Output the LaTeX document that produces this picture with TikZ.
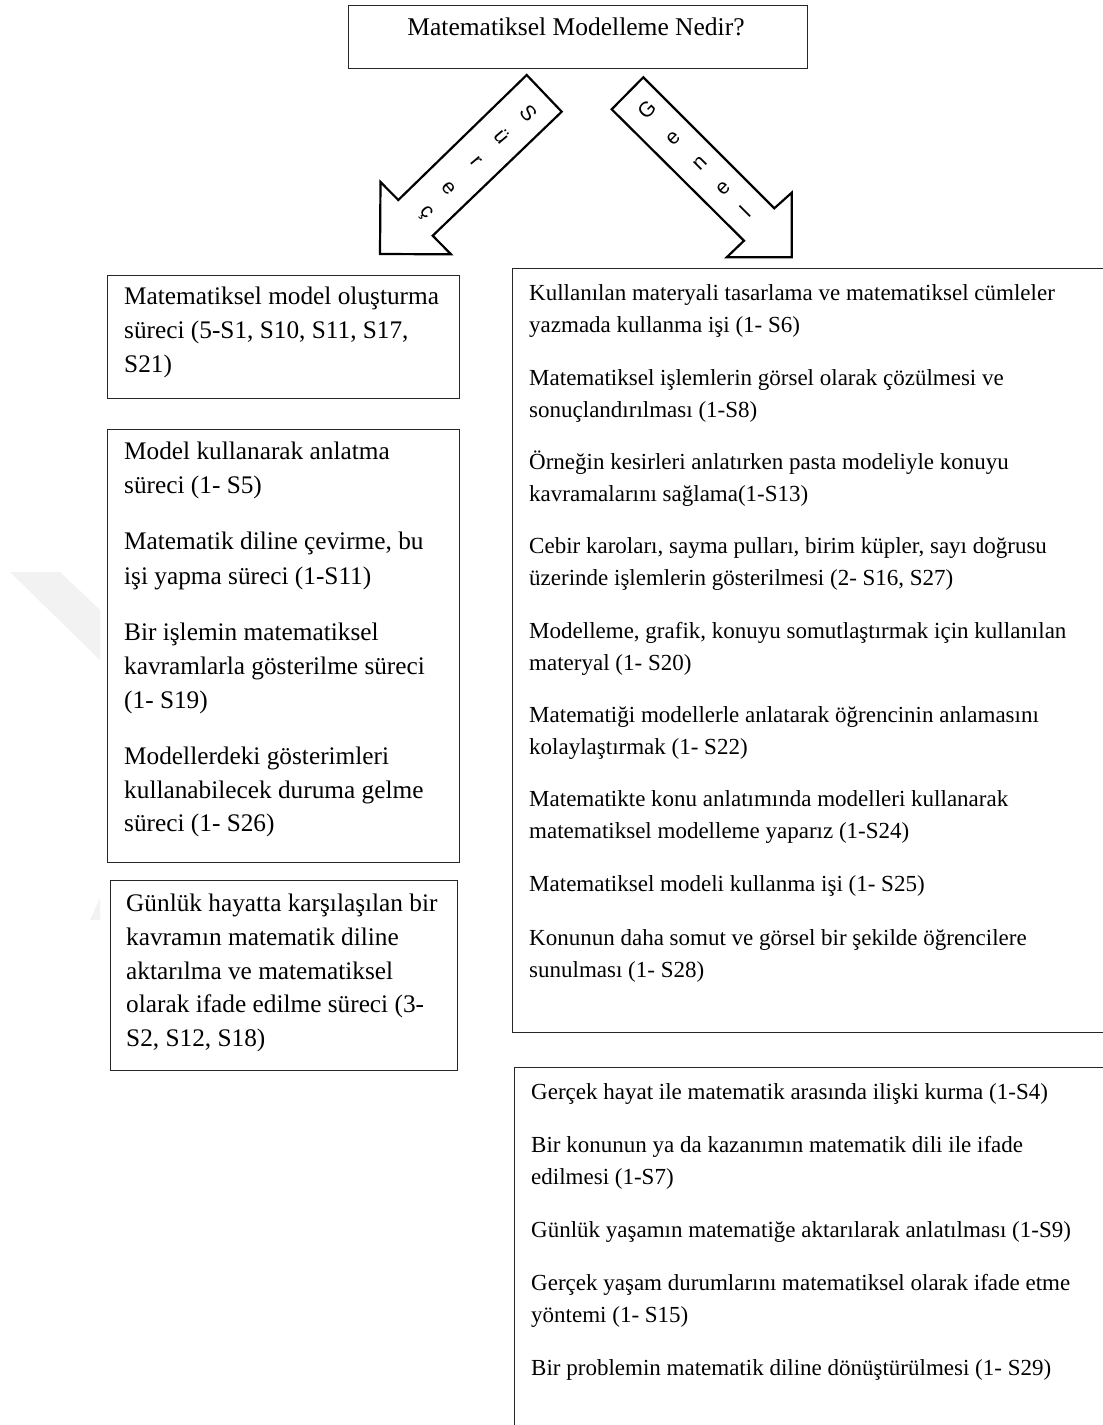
\documentclass[tikz,border=0pt]{standalone}
\usepackage{fontspec}
\setmainfont{Liberation Serif}
\newfontfamily\arrowfont{Liberation Sans}
\definecolor{wm}{RGB}{242,242,242}
\begin{document}
\begin{tikzpicture}[x=1pt,y=-1pt,
  box/.style={draw=black!85, line width=1.4pt, fill=white, anchor=north west, inner sep=0pt},
  titletxt/.style={anchor=base, inner sep=0pt, font=\fontsize{25.5}{30}\selectfont},
  ltxt/.style={anchor=base west, inner sep=0pt, font=\fontsize{25.3}{30}\selectfont},
  rtxt/.style={anchor=base west, inner sep=0pt, font=\fontsize{23}{27}\selectfont},
  blockarrow/.style={draw=black, line width=2.2pt, fill=white, line join=miter},
  letter/.style={inner sep=0pt, font=\arrowfont\fontsize{21}{21}\selectfont}
]
\useasboundingbox (0,0) rectangle (1103,1425);
\clip (0,0) rectangle (1103,1425);
\fill[white] (0,0) rectangle (1103,1425);

% faint background mark
\fill[wm] (10,572) -- (60,572) -- (100,610) -- (100,660) -- cycle;
\fill[wm] (90,920) -- (100,898) -- (100,920) -- cycle;

% title
\node[box, minimum width=459, minimum height=63] (title) at (348,5) {};
\node[titletxt] (titletext) at (576,35) {Matematiksel Modelleme Nedir?};

% block arrows
\draw[blockarrow] (526.7,75) -- (561.7,111.7) -- (432.7,235.7) -- (451,254.3)
  -- (380,254) -- (380.5,182) -- (398.3,200) -- cycle;
\draw[blockarrow] (611.7,109.3) -- (643.3,77.3) -- (774.3,208.3) -- (791.7,192.7)
  -- (791.7,257.3) -- (726.7,257.3) -- (744,240.7) -- cycle;

\foreach \x/\y/\c [count=\i] in {528.3/113.3/S, 501.7/136.7/ü, 476/161.7/r, 448.3/188.3/e, 425/213.3/ç}
  \node[letter, rotate=-50] (surec\i) at (\x,\y) {\c};
\foreach \x/\y/\c [count=\i] in {646.7/110/G, 673.3/138.3/e, 700/163.3/n, 723.3/188.3/e, 745/211.7/l}
  \node[letter, rotate=45] (genel\i) at (\x,\y) {\c};

% left column
\node[box, minimum width=352, minimum height=123] (lbox1) at (107,275) {};
\node[box, minimum width=352, minimum height=433] (lbox2) at (107,429) {};
\node[box, minimum width=347, minimum height=190] (lbox3) at (110,880) {};

\foreach \y/\t [count=\i] in {304/{Matematiksel model oluşturma},
    338/{süreci (5-S1, S10, S11, S17,},
    372/{S21)}}
  \node[ltxt] (la\i) at (124,\y) {\t};

\foreach \y/\t [count=\i] in {459/{Model kullanarak anlatma},
    493/{süreci (1- S5)},
    549/{Matematik diline çevirme, bu},
    584/{işi yapma süreci (1-S11)},
    640/{Bir işlemin matematiksel},
    674/{kavramlarla gösterilme süreci},
    708/{(1- S19)},
    764/{Modellerdeki gösterimleri},
    798/{kullanabilecek duruma gelme},
    831/{süreci (1- S26)}}
  \node[ltxt] (lb\i) at (124,\y) {\t};

\foreach \y/\t [count=\i] in {911/{Günlük hayatta karşılaşılan bir},
    945/{kavramın matematik diline},
    979/{aktarılma ve matematiksel},
    1012/{olarak ifade edilme süreci (3-},
    1046/{S2, S12, S18)}}
  \node[ltxt] (lc\i) at (126,\y) {\t};

% right column
\node[box, minimum width=620, minimum height=764] (rbox1) at (512,268) {};
\node[box, minimum width=620, minimum height=420] (rbox2) at (514,1067) {};

\foreach \y/\t [count=\i] in {300/{Kullanılan materyali tasarlama ve matematiksel cümleler},
    332/{yazmada kullanma işi (1- S6)},
    385/{Matematiksel işlemlerin görsel olarak çözülmesi ve},
    417/{sonuçlandırılması (1-S8)},
    469/{Örneğin kesirleri anlatırken pasta modeliyle konuyu},
    501/{kavramalarını sağlama(1-S13)},
    553/{Cebir karoları, sayma pulları, birim küpler, sayı doğrusu},
    585/{üzerinde işlemlerin gösterilmesi (2- S16, S27)},
    638/{Modelleme, grafik, konuyu somutlaştırmak için kullanılan},
    670/{materyal (1- S20)},
    722/{Matematiği modellerle anlatarak öğrencinin anlamasını},
    754/{kolaylaştırmak (1- S22)},
    806/{Matematikte konu anlatımında modelleri kullanarak},
    838/{matematiksel modelleme yaparız (1-S24)},
    891/{Matematiksel modeli kullanma işi (1- S25)},
    945/{Konunun daha somut ve görsel bir şekilde öğrencilere},
    977/{sunulması (1- S28)}}
  \node[rtxt] (ra\i) at (529,\y) {\t};

\foreach \y/\t [count=\i] in {1099/{Gerçek hayat ile matematik arasında ilişki kurma (1-S4)},
    1152/{Bir konunun ya da kazanımın matematik dili ile ifade},
    1184/{edilmesi (1-S7)},
    1237/{Günlük yaşamın matematiğe aktarılarak anlatılması (1-S9)},
    1290/{Gerçek yaşam durumlarını matematiksel olarak ifade etme},
    1322/{yöntemi (1- S15)},
    1375/{Bir problemin matematik diline dönüştürülmesi (1- S29)}}
  \node[rtxt] (rb\i) at (531,\y) {\t};
\end{tikzpicture}
\end{document}
